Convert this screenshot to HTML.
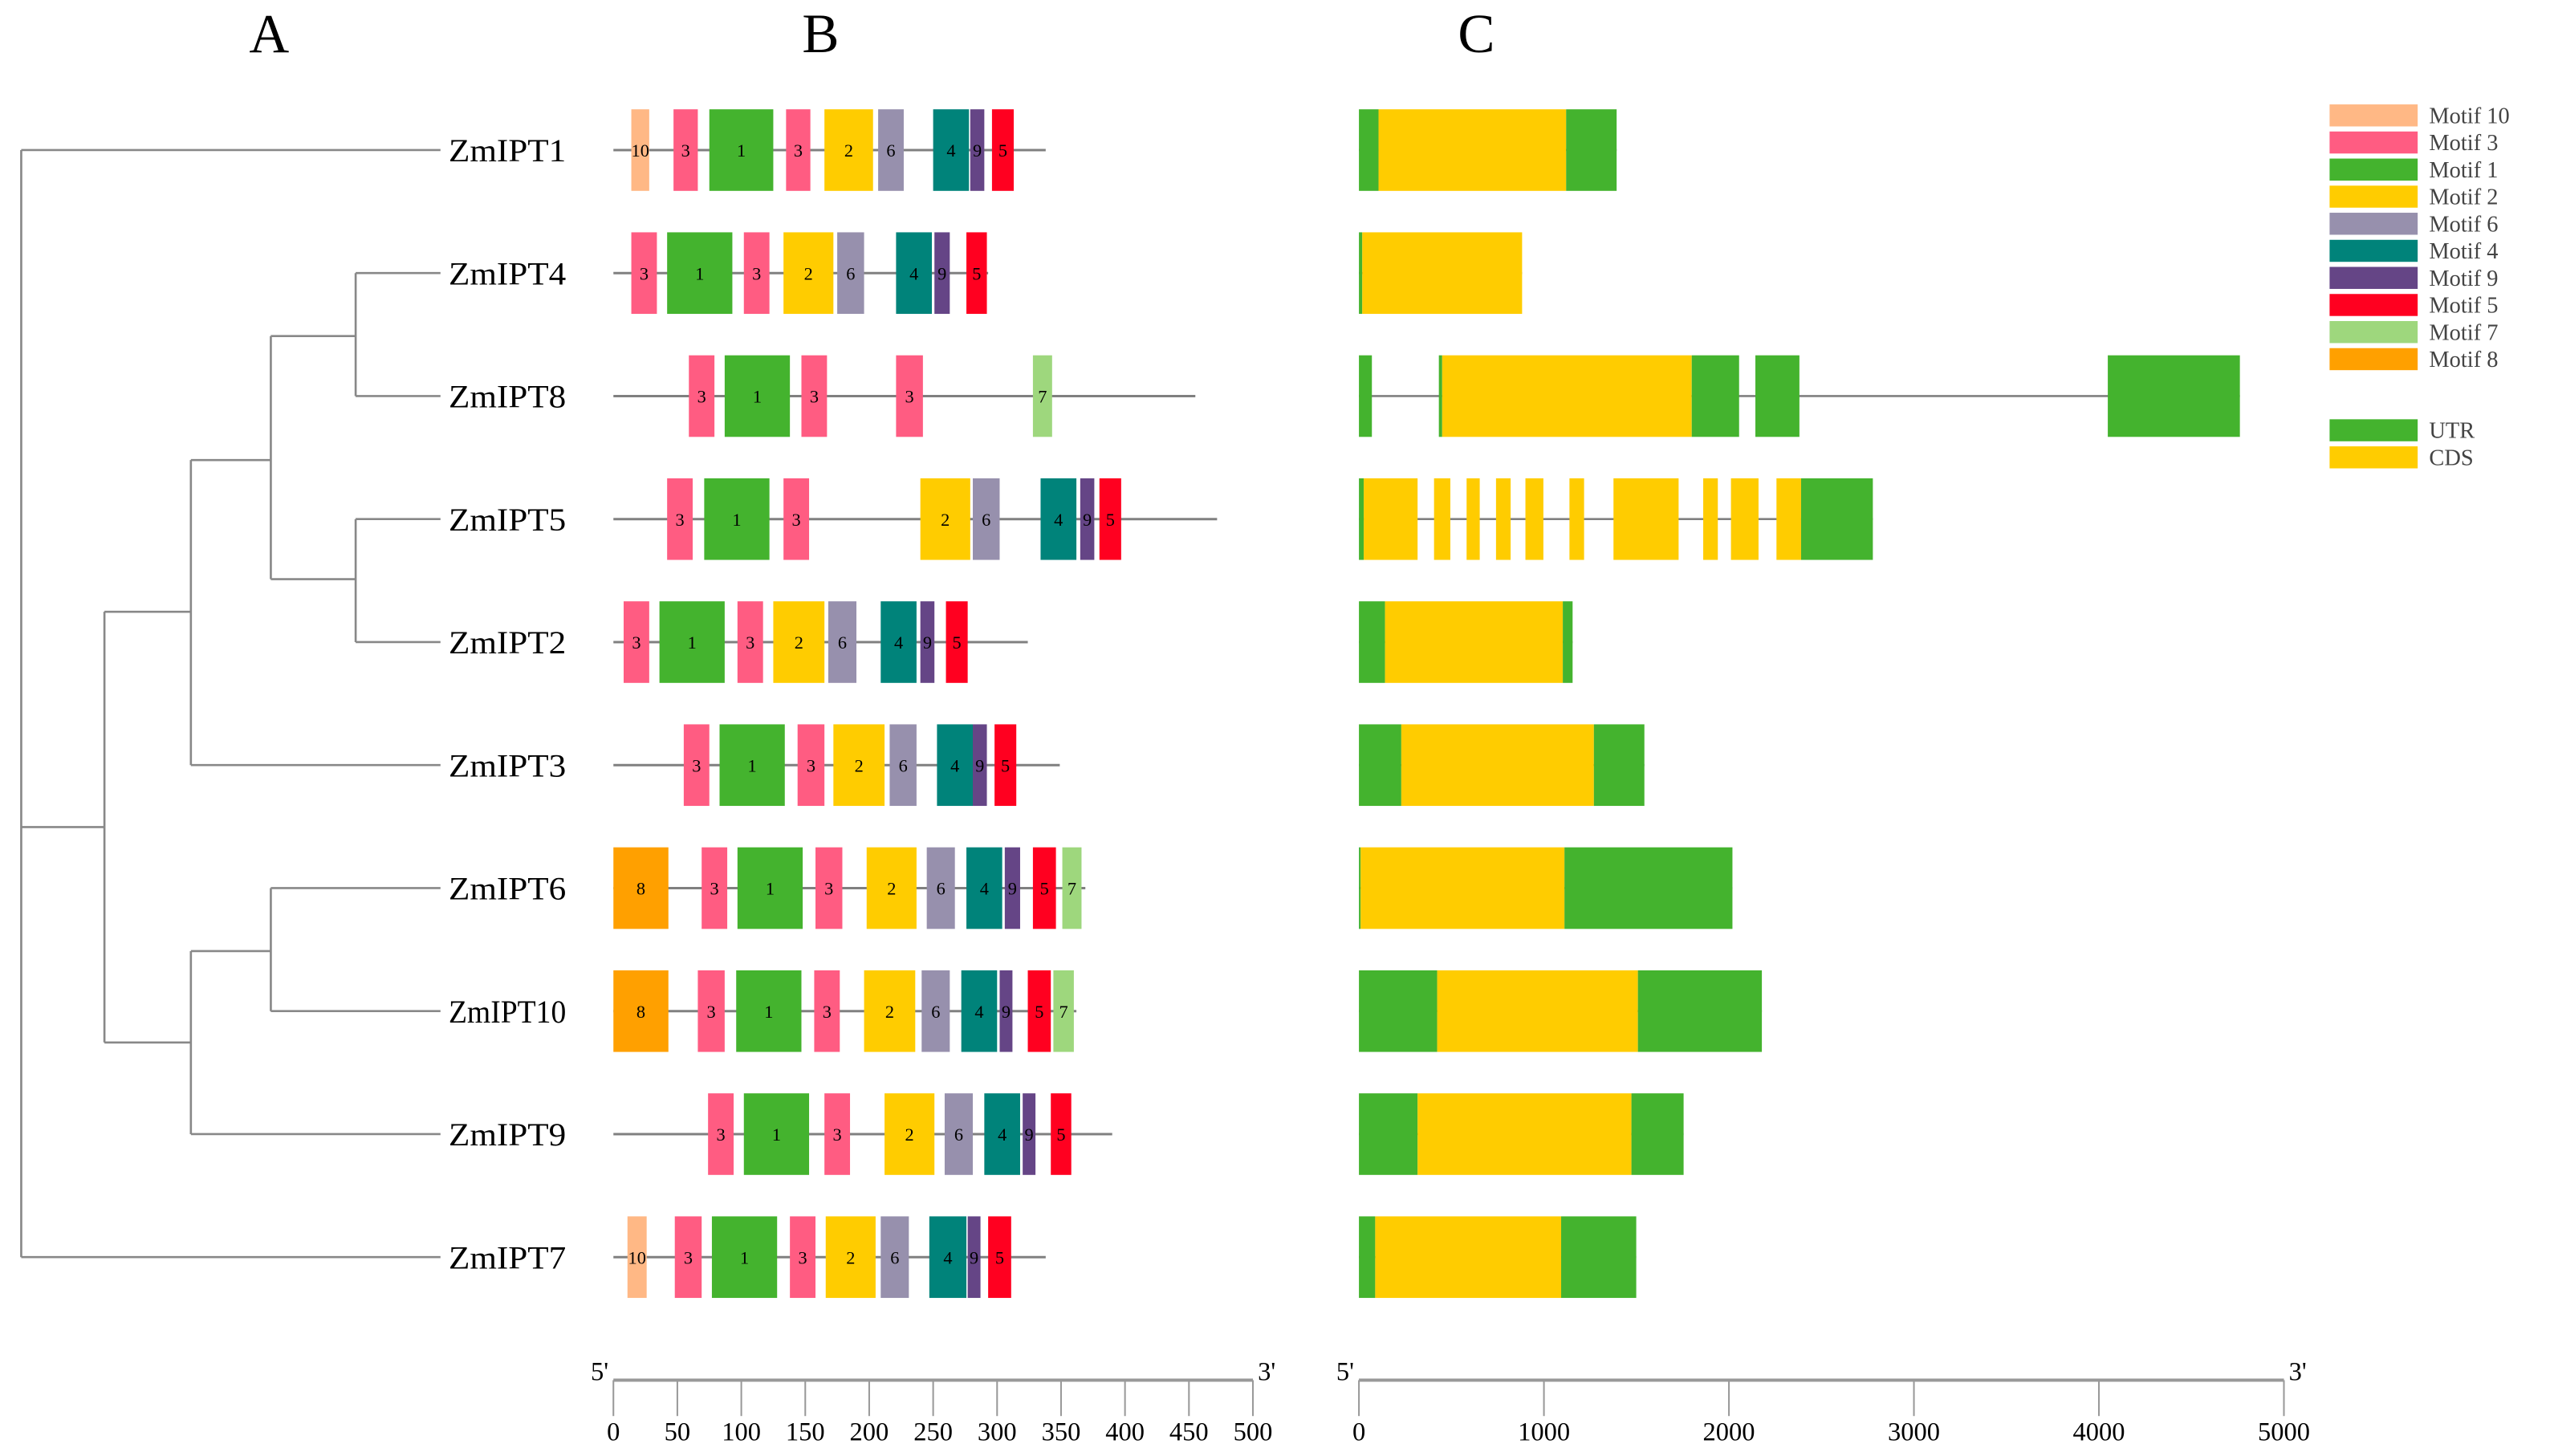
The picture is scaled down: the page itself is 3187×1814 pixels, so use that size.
<!DOCTYPE html>
<html><head><meta charset="utf-8"><style>
html,body{margin:0;padding:0;background:#fff;}
svg{display:block;}
text{font-family:"Liberation Serif",serif;}
</style></head><body>
<svg id="fig" width="3187" height="1814" viewBox="0 0 1568 892.5" xmlns="http://www.w3.org/2000/svg">
<text x="165" y="32" font-size="34" text-anchor="middle">A</text>
<text x="503" y="32" font-size="34" text-anchor="middle">B</text>
<text x="905" y="32" font-size="34" text-anchor="middle">C</text>
<g id="tree"></g>
<g id="motifs"></g>
<g id="genes"></g>
<g id="legend"></g>
<g id="axes"></g>
</svg>
<script>
const genes = ["ZmIPT1","ZmIPT4","ZmIPT8","ZmIPT5","ZmIPT2","ZmIPT3","ZmIPT6","ZmIPT10","ZmIPT9","ZmIPT7"];
const proteinLengths = [338,293,455,472,324,349,369,362,390,338];
const motifData = [
 [[10,14,28],[3,47,66],[1,75,125],[3,135,154],[2,165,203],[6,207,227],[4,250,278],[9,279,290],[5,296,313]],
 [[3,14,34],[1,42,93],[3,102,122],[2,133,172],[6,175,196],[4,221,249],[9,251,263],[5,276,292]],
 [[3,59,79],[1,87,138],[3,147,167],[3,221,242],[7,328,343]],
 [[3,42,62],[1,71,122],[3,133,153],[2,240,279],[6,281,302],[4,334,362],[9,365,376],[5,380,397]],
 [[3,8,28],[1,36,87],[3,97,117],[2,125,165],[6,168,190],[4,209,237],[9,240,251],[5,260,277]],
 [[3,55,75],[1,83,134],[3,144,165],[2,172,212],[6,216,237],[4,253,281],[9,281,292],[5,298,315]],
 [[8,0,43],[3,69,89],[1,97,148],[3,158,179],[2,198,237],[6,245,267],[4,276,304],[9,306,318],[5,328,346],[7,351,366]],
 [[8,0,43],[3,66,87],[1,96,147],[3,157,177],[2,196,236],[6,241,263],[4,272,300],[9,302,312],[5,324,342],[7,344,360]],
 [[3,74,94],[1,102,153],[3,165,185],[2,212,251],[6,259,281],[4,290,318],[9,320,330],[5,342,358]],
 [[10,11,26],[3,48,69],[1,77,128],[3,138,158],[2,166,205],[6,209,231],[4,247,276],[9,277,287],[5,293,311]]
];
const geneLengths = [1393,882,4762,2778,1155,1543,2019,2178,1755,1499];
const geneFeatures = [
 [["U",0,106],["C",106,1120],["U",1120,1393]],
 [["U",0,18],["C",18,882]],
 [["U",0,70],["U",432,450],["C",450,1799],["U",1799,2055],["U",2143,2381],["U",4048,4762]],
 [["U",0,26],["C",26,317],["C",406,494],["C",582,653],["C",741,820],["C",900,997],["C",1138,1217],["C",1376,1728],["C",1861,1940],["C",2011,2160],["C",2257,2390],["U",2390,2778]],
 [["U",0,141],["C",141,1102],["U",1102,1155]],
 [["U",0,229],["C",229,1270],["U",1270,1543]],
 [["U",0,9],["C",9,1111],["U",1111,2019]],
 [["U",0,423],["C",423,1508],["U",1508,2178]],
 [["U",0,317],["C",317,1473],["U",1473,1755]],
 [["U",0,88],["C",88,1093],["U",1093,1499]]
];
const legendMotifs = [10,3,1,2,6,4,9,5,7,8];
const protTicks = [0,50,100,150,200,250,300,350,400,450,500];
const geneTicks = [0,1000,2000,3000,4000,5000];

const motifColor = {10:"#FFB885",3:"#FF5C82",1:"#44B32E",2:"#FFCC00",6:"#9790AD",4:"#00837A",9:"#654586",5:"#FF0020",7:"#9ED77D",8:"#FFA000"};
const UTR="#44B32E", CDS="#FFCC00";
const NS="http://www.w3.org/2000/svg";
function mk(tag, attrs, parent){const e=document.createElementNS(NS,tag);for(const k in attrs)e.setAttribute(k,attrs[k]);parent.appendChild(e);return e;}
const rowY = i => 92 + i*75.4;
const xB = v => 376 + v*0.784;
const xC = v => 833 + v*0.1134;
const BH = 50;

// tree
const tree=document.getElementById('tree');
const leafX=270;
const segs=[
 [13,rowY(0),leafX,rowY(0)],[13,rowY(0),13,rowY(9)],[13,rowY(9),leafX,rowY(9)],
 [13,507,64,507],
 [64,375,64,639],[64,375,117,375],[64,639,117,639],
 [117,282,117,rowY(5)],[117,rowY(5),leafX,rowY(5)],[117,282,166,282],
 [166,206,166,355],[166,206,218,206],[166,355,218,355],
 [218,rowY(1),218,rowY(2)],[218,rowY(1),leafX,rowY(1)],[218,rowY(2),leafX,rowY(2)],
 [218,rowY(3),218,rowY(4)],[218,rowY(3),leafX,rowY(3)],[218,rowY(4),leafX,rowY(4)],
 [117,583,117,rowY(8)],[117,rowY(8),leafX,rowY(8)],[117,583,166,583],
 [166,rowY(6),166,rowY(7)],[166,rowY(6),leafX,rowY(6)],[166,rowY(7),leafX,rowY(7)]
];
segs.forEach(s=>{const l=mk('line',{x1:s[0],y1:s[1],x2:s[2],y2:s[3],stroke:"#888","stroke-width":1.3},tree);

});
genes.forEach((g,i)=>{const t=mk('text',{x:275,y:rowY(i)+7,"font-size":20,textLength:72,lengthAdjust:"spacingAndGlyphs"},tree);t.textContent=g;

});

// motifs
const mg=document.getElementById('motifs');
genes.forEach((g,i)=>{const y=rowY(i);
 const l=mk('line',{x1:xB(0),y1:y,x2:xB(proteinLengths[i]),y2:y,stroke:"#808080","stroke-width":1.5},mg);
 
 
 motifData[i].forEach(m=>{const x1=xB(m[1]),x2=xB(m[2]);
  const r=mk('rect',{x:x1,y:y-BH/2,width:x2-x1,height:BH,fill:motifColor[m[0]]},mg);
  
  
  const t=mk('text',{x:(x1+x2)/2,y:y+4,"font-size":11,"text-anchor":"middle"},mg);t.textContent=m[0];
  
  
 });
});

// gene structures
const gg=document.getElementById('genes');
genes.forEach((g,i)=>{const y=rowY(i);
 const l=mk('line',{x1:xC(0),y1:y,x2:xC(geneLengths[i]),y2:y,stroke:"#808080","stroke-width":1.3},gg);
 
 
 geneFeatures[i].forEach(f=>{const x1=xC(f[1]),x2=xC(f[2]);
  const r=mk('rect',{x:x1,y:y-BH/2,width:Math.max(x2-x1,1),height:BH,fill:f[0]==="U"?UTR:CDS},gg);
  
  
 });
});

// legend
const lg=document.getElementById('legend');
legendMotifs.forEach((m,k)=>{const y=64+k*16.6;
 const r=mk('rect',{x:1428,y:y,width:54,height:13.5,fill:motifColor[m]},lg);
 
 
 const t=mk('text',{x:1489,y:y+11.5,"font-size":14,fill:"#444"},lg);t.textContent="Motif "+m;
 
 
});
[["UTR",UTR],["CDS",CDS]].forEach((e,k)=>{const y=257+k*16.6;
 const r=mk('rect',{x:1428,y:y,width:54,height:13.5,fill:e[1]},lg);
 
 
 const t=mk('text',{x:1489,y:y+11.5,"font-size":14,fill:"#444"},lg);t.textContent=e[0];
 
 
});

// axes
const ax=document.getElementById('axes');
function drawAxis(fn,ticks,name){
 const ly=846;
 const l=mk('line',{x1:fn(ticks[0]),y1:ly,x2:fn(ticks[ticks.length-1]),y2:ly,stroke:"#999","stroke-width":2},ax);
 
 
 ticks.forEach(v=>{const x=fn(v);
  const tk=mk('line',{x1:x,y1:ly,x2:x,y2:868,stroke:"#999","stroke-width":1},ax);
  
  
  const t=mk('text',{x:x,y:883,"font-size":16,"text-anchor":"middle"},ax);t.textContent=v;
  
  
 });
 const a=mk('text',{x:fn(ticks[0])-3,y:ly,"font-size":16,"text-anchor":"end"},ax);a.textContent="5'";
 
 
 const b=mk('text',{x:fn(ticks[ticks.length-1])+3,y:ly,"font-size":16},ax);b.textContent="3'";
 
 
}
drawAxis(xB,protTicks,'protein-scale');
drawAxis(xC,geneTicks,'gene-scale');
</script>
</body></html>
